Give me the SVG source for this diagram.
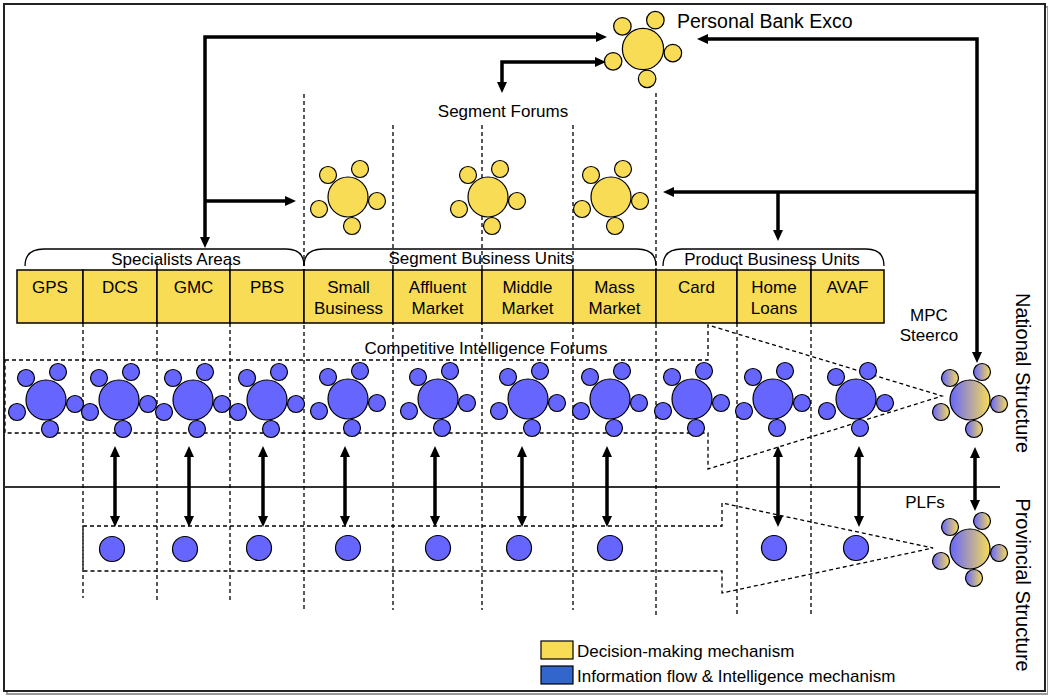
<svg xmlns="http://www.w3.org/2000/svg" width="1048" height="696" viewBox="0 0 1048 696">
<style>
text{font-family:"Liberation Sans",Arial,sans-serif;font-size:17px;fill:#000;stroke:none}
.c{text-anchor:middle}
.box{fill:#F8DC55;stroke:#000;stroke-width:1.5}
.dash{fill:none;stroke:#000;stroke-width:1.3;stroke-dasharray:4 3}
.arr{fill:none;stroke:#000;stroke-width:3.5}
.brk{fill:none;stroke:#000;stroke-width:1.3}
.bl{fill:#6666FF;stroke:#000;stroke-width:1.2}
.yl{fill:#F8DC55;stroke:#000;stroke-width:1.2}
.gr{fill:url(#mix);stroke:#000;stroke-width:1.2}
</style>
<defs>
<linearGradient id="mix" x1="0" y1="0" x2="1" y2="0">
<stop offset="0" stop-color="#6666FF"/>
<stop offset="1" stop-color="#F8DC55"/>
</linearGradient>
<g id="tbl">
<circle cx="12" cy="-28" r="8.5"/>
<circle cx="-20" cy="-22" r="8.5"/>
<circle cx="29" cy="4" r="8.5"/>
<circle cx="-29" cy="12" r="8.5"/>
<circle cx="4" cy="29" r="8.5"/>
<circle cx="0" cy="0" r="20"/>
</g>
<marker id="ah" viewBox="0 0 11 10" refX="3" refY="5" markerWidth="11" markerHeight="10" markerUnits="userSpaceOnUse" orient="auto-start-reverse">
<path d="M0,0 L11,5 L0,10 z" fill="#000" stroke="none"/>
</marker>
</defs>
<rect x="0" y="0" width="1048" height="696" fill="#fff"/>
<rect x="7" y="7" width="1041" height="687" fill="none" stroke="#999" stroke-width="2"/>
<rect x="4" y="4" width="1041" height="687" fill="#fff" stroke="#222" stroke-width="2"/>
<line x1="4" y1="487" x2="1000" y2="487" stroke="#333" stroke-width="2"/>

<g id="guides">
<path class="dash" d="M83,323V598M157,323V602M230,323V602M304,94V610M393,125V610M482,125V610M573,125V610M656,93V617M737,323V617M811,323V617"/>
<path class="dash" d="M5,360H708V325L942,396L708,469V433H5Z"/>
<path class="dash" d="M83,526H722V503L933,548L722,593V571H83Z"/>
<path class="brk" d="M25,266Q25,249 44,249H286Q304,249 304,266"/>
<path class="brk" d="M304,266Q304,249 323,249H637Q656,249 656,266"/>
<path class="brk" d="M663,266Q663,249 682,249H866Q884,249 884,266"/>
<path class="brk" d="M157,262V270M230,262V270M737,262V270M811,262V270"/>
</g>

<g id="exco" class="yl"><use href="#tbl" transform="translate(643,49) scale(1.03)"/><text x="677" y="28" style="font-size:19.5px">Personal Bank Exco</text></g>
<g id="segment-forums"><text class="c" x="503" y="117">Segment Forums</text></g>
<g id="sf-1" class="yl"><use href="#tbl" transform="translate(348,197)"/></g>
<g id="sf-2" class="yl"><use href="#tbl" transform="translate(488,197)"/></g>
<g id="sf-3" class="yl"><use href="#tbl" transform="translate(611,197)"/></g>

<g id="specialists-areas"><text class="c" x="176" y="265">Specialists Areas</text></g>
<g id="segment-business-units"><text class="c" x="481" y="264">Segment Business Units</text></g>
<g id="product-business-units"><text class="c" x="772" y="265">Product Business Units</text></g>

<g id="gps"><rect class="box" x="17" y="270" width="66" height="53"/><text class="c" x="50" y="293">GPS</text></g>
<g id="dcs"><rect class="box" x="83" y="270" width="74" height="53"/><text class="c" x="120" y="293">DCS</text></g>
<g id="gmc"><rect class="box" x="157" y="270" width="73" height="53"/><text class="c" x="193.5" y="293">GMC</text></g>
<g id="pbs"><rect class="box" x="230" y="270" width="74" height="53"/><text class="c" x="267" y="293">PBS</text></g>
<g id="small-business"><rect class="box" x="304" y="270" width="89" height="53"/><text class="c" x="348.5" y="293">Small</text><text class="c" x="348.5" y="314">Business</text></g>
<g id="affluent-market"><rect class="box" x="393" y="270" width="89" height="53"/><text class="c" x="437.5" y="293">Affluent</text><text class="c" x="437.5" y="314">Market</text></g>
<g id="middle-market"><rect class="box" x="482" y="270" width="91" height="53"/><text class="c" x="527.5" y="293">Middle</text><text class="c" x="527.5" y="314">Market</text></g>
<g id="mass-market"><rect class="box" x="573" y="270" width="83" height="53"/><text class="c" x="614.5" y="293">Mass</text><text class="c" x="614.5" y="314">Market</text></g>
<g id="card"><rect class="box" x="656" y="270" width="81" height="53"/><text class="c" x="696.5" y="293">Card</text></g>
<g id="home-loans"><rect class="box" x="737" y="270" width="74" height="53"/><text class="c" x="774" y="293">Home</text><text class="c" x="774" y="314">Loans</text></g>
<g id="avaf"><rect class="box" x="811" y="270" width="73" height="53"/><text class="c" x="847.5" y="293">AVAF</text></g>

<g id="ci-label"><text class="c" x="486" y="354">Competitive Intelligence Forums</text></g>
<g id="ci-1" class="bl"><use href="#tbl" transform="translate(46,400)"/></g>
<g id="ci-2" class="bl"><use href="#tbl" transform="translate(119,400)"/></g>
<g id="ci-3" class="bl"><use href="#tbl" transform="translate(193,400)"/></g>
<g id="ci-4" class="bl"><use href="#tbl" transform="translate(267,400)"/></g>
<g id="ci-5" class="bl"><use href="#tbl" transform="translate(348,399)"/></g>
<g id="ci-6" class="bl"><use href="#tbl" transform="translate(438,399)"/></g>
<g id="ci-7" class="bl"><use href="#tbl" transform="translate(528,399)"/></g>
<g id="ci-8" class="bl"><use href="#tbl" transform="translate(610,399)"/></g>
<g id="ci-9" class="bl"><use href="#tbl" transform="translate(692,399)"/></g>
<g id="ci-10" class="bl"><use href="#tbl" transform="translate(773,399)"/></g>
<g id="ci-11" class="bl"><use href="#tbl" transform="translate(856,399)"/></g>

<g id="mpc-steerco" class="gr"><use href="#tbl" transform="translate(970,400)"/><text class="c" x="929" y="321">MPC</text><text class="c" x="929" y="341">Steerco</text></g>
<g id="plfs" class="gr"><use href="#tbl" transform="translate(970,549)"/><text class="c" x="925" y="508">PLFs</text></g>

<g id="prov" class="bl">
<circle cx="112" cy="549" r="12.5"/>
<circle cx="185" cy="549" r="12.5"/>
<circle cx="259" cy="548" r="12.5"/>
<circle cx="348" cy="548" r="12.5"/>
<circle cx="438" cy="548" r="12.5"/>
<circle cx="519" cy="548" r="12.5"/>
<circle cx="610" cy="548" r="12.5"/>
<circle cx="774" cy="548" r="12.5"/>
<circle cx="856" cy="548" r="12.5"/>
</g>

<g id="connectors">
<path class="arr" marker-start="url(#ah)" marker-end="url(#ah)" d="M205,240V37H599"/>
<path class="arr" marker-end="url(#ah)" d="M205,201H288"/>
<path class="arr" marker-start="url(#ah)" marker-end="url(#ah)" d="M502,85V62H598"/>
<path class="arr" marker-start="url(#ah)" marker-end="url(#ah)" d="M705,39H977V355"/>
<path class="arr" marker-end="url(#ah)" d="M977,192H671"/>
<path class="arr" marker-end="url(#ah)" d="M778,192V233"/>
<path class="arr" marker-start="url(#ah)" marker-end="url(#ah)" d="M115,454V519"/>
<path class="arr" marker-start="url(#ah)" marker-end="url(#ah)" d="M189,454V519"/>
<path class="arr" marker-start="url(#ah)" marker-end="url(#ah)" d="M263,454V519"/>
<path class="arr" marker-start="url(#ah)" marker-end="url(#ah)" d="M345,454V519"/>
<path class="arr" marker-start="url(#ah)" marker-end="url(#ah)" d="M435,454V519"/>
<path class="arr" marker-start="url(#ah)" marker-end="url(#ah)" d="M522,454V519"/>
<path class="arr" marker-start="url(#ah)" marker-end="url(#ah)" d="M607,454V519"/>
<path class="arr" marker-start="url(#ah)" marker-end="url(#ah)" d="M778,454V519"/>
<path class="arr" marker-start="url(#ah)" marker-end="url(#ah)" d="M859,454V519"/>
<path class="arr" marker-start="url(#ah)" marker-end="url(#ah)" d="M975,455V503"/>
</g>

<g id="national-structure"><text class="c" transform="translate(1016,373) rotate(90)" style="font-size:20px">National Structure</text></g>
<g id="provincial-structure"><text class="c" transform="translate(1016,585) rotate(90)" style="font-size:20px">Provincial Structure</text></g>

<g id="legend">
<rect x="541" y="641" width="32" height="18" fill="#F8DC55" stroke="#000" stroke-width="1.2"/>
<text x="577" y="657">Decision-making mechanism</text>
<rect x="541" y="666" width="32" height="18" fill="#3366CC" stroke="#000" stroke-width="1.2"/>
<text x="577" y="682">Information flow &amp; Intelligence mechanism</text>
</g>
</svg>
